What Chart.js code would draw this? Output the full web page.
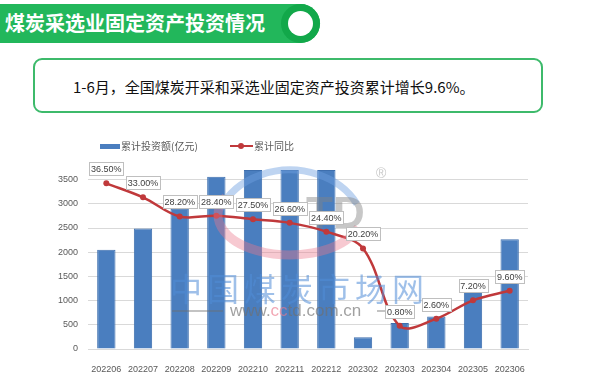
<!DOCTYPE html>
<html lang="zh-CN">
<head>
<meta charset="utf-8">
<title>煤炭采选业固定资产投资情况</title>
<script src="https://cdn.jsdelivr.net/npm/chart.js@4/dist/chart.umd.min.js"></script>
<style>
  html, body { margin: 0; padding: 0; background: #fff; }
  body { width: 600px; height: 374px; position: relative; overflow: hidden;
         font-family: "Noto Sans CJK SC", "Noto Sans", sans-serif; }
  .banner { position: absolute; left: 0; top: 4px; width: 320px; height: 39px;
            background: #22b75b; border-radius: 0 20px 20px 0; }
  .banner .title { position: absolute; left: 5px; top: 0; line-height: 38px;
                   color: #fff; font-size: 20px; font-weight: 700; white-space: nowrap; }
  .ring { position: absolute; left: 281px; top: 4px; width: 39px; height: 39px;
          border-radius: 50%; background: #12a84a; }
  .ring::after { content: ""; position: absolute; left: 7px; top: 7px; width: 25px; height: 25px;
                 border-radius: 50%; background: #fff; }
  .note { position: absolute; left: 33px; top: 58px; width: 506px; height: 51px;
          border: 2px solid #3dba6b; border-radius: 9px; }
  .note span { position: absolute; left: 38px; top: 0; line-height: 53px;
               font-size: 15px; color: #111; white-space: nowrap; }
  #wrap { position: absolute; left: 0; top: 140px; width: 600px; height: 234px; }
  .legend { position: absolute; top: 139px; left: 0; height: 14px; font-size: 10px;
            color: #595959; z-index: 2; }
  .legend .sw { position: absolute; left: 100px; top: 5px; width: 20px; height: 5px; background: #4a7ebf; }
  .legend .t1 { position: absolute; left: 121px; top: 0; line-height: 14px; white-space: nowrap; }
  .legend .ln { position: absolute; left: 230px; top: 6px; width: 23px; height: 2px; background: #c0393b; }
  .legend .dot { position: absolute; left: 238px; top: 4px; width: 6px; height: 6px; border-radius: 50%; background: #c0393b; }
  .legend .t2 { position: absolute; left: 254px; top: 0; line-height: 14px; white-space: nowrap; }
</style>
</head>
<body>
<div class="banner"><div class="title">煤炭采选业固定资产投资情况</div></div>
<div class="ring"></div>
<div class="note"><span>1-6月，全国煤炭开采和采选业固定资产投资累计增长9.6%。</span></div>

<div class="legend">
  <div class="sw"></div><div class="t1">累计投资额(亿元)</div>
  <div class="ln"></div><div class="dot"></div><div class="t2">累计同比</div>
</div>
<div id="wrap"><canvas id="chart" width="600" height="234"></canvas></div>

<script>
// ── Data ────────────────────────────────────────────────────────────────────
const months     = ['202206', '202207', '202208', '202209', '202210', '202211',
                    '202212', '202302', '202303', '202304', '202305', '202306'];
const investment = [2050, 2490, 2900, 3560, 3700, 3700, 3700, 245, 536, 669, 1385, 2265];
const growth     = [36.5, 33.0, 28.2, 28.4, 27.5, 26.6, 24.4, 20.2, 0.8, 2.6, 7.2, 9.6];
const leftMax    = 4000;
const leftStep   = 500;

const BAR_COLOR  = '#4a7ebf';
const LINE_COLOR = '#c0393b';
const GRID_COLOR = '#d9d9d9';
const FONT       = "'Liberation Sans', Arial, sans-serif";

Chart.defaults.font.family = FONT;
Chart.defaults.font.size = 9;
Chart.defaults.color = '#595959';

// ── Watermark (decoration, canvas sits 140px below page top) ───────────────
const watermark = {
  id: 'watermark',
  afterDatasetsDraw(chart) {
    const ctx = chart.ctx;
    const oy = -140;
    ctx.save();
    // blue orbit arc
    ctx.strokeStyle = 'rgba(110,160,225,0.45)';
    ctx.lineWidth = 7;
    ctx.beginPath();
    ctx.ellipse(290, 232 + oy, 75, 62, 0, Math.PI * 1.12, Math.PI * 1.85);
    ctx.stroke();
    // pink "C"
    ctx.strokeStyle = 'rgba(235,120,140,0.40)';
    ctx.lineWidth = 9;
    ctx.beginPath();
    ctx.ellipse(290, 215 + oy, 72, 40, 0, Math.PI * 1.15, Math.PI * 0.1, true);
    ctx.stroke();
    // gray "TD"
    ctx.fillStyle = 'rgba(130,130,130,0.45)';
    ctx.font = "bold 44px 'Liberation Sans', sans-serif";
    ctx.textBaseline = 'alphabetic';
    ctx.textAlign = 'left';
    ctx.fillText('TD', 306, 228 + oy);
    ctx.font = "14px 'Liberation Sans', sans-serif";
    ctx.fillText('®', 376, 178 + oy);
    // chinese site name
    ctx.fillStyle = 'rgba(80,140,215,0.55)';
    ctx.font = "32px 'Noto Sans CJK SC', sans-serif";
    ctx.textBaseline = 'middle';
    [...'中国煤炭市场网'].forEach((ch, i) => ctx.fillText(ch, 170 + i * 37, 289 + oy));
    // url
    ctx.font = "17px 'Liberation Sans', sans-serif";
    let x = 230;
    [['www.', 'rgba(110,110,110,0.65)'], ['cc', 'rgba(235,120,140,0.65)'],
     ['td.com.cn', 'rgba(110,110,110,0.65)']].forEach(([s, c]) => {
      ctx.fillStyle = c;
      ctx.fillText(s, x, 311 + oy);
      x += ctx.measureText(s).width;
    });
    ctx.strokeStyle = 'rgba(110,110,110,0.55)';
    ctx.lineWidth = 1.5;
    ctx.beginPath();
    ctx.moveTo(172, 311 + oy); ctx.lineTo(223, 311 + oy);
    ctx.moveTo(377, 311 + oy); ctx.lineTo(397, 311 + oy);
    ctx.stroke();
    ctx.restore();
  },
};

// ── Boxed percentage labels on the line ─────────────────────────────────────
const boxLabels = {
  id: 'boxLabels',
  afterDatasetsDraw(chart) {
    const ctx = chart.ctx;
    const meta = chart.getDatasetMeta(1);
    ctx.save();
    ctx.font = '9px ' + FONT;
    ctx.textAlign = 'center';
    ctx.textBaseline = 'middle';
    meta.data.forEach((pt, i) => {
      const text = growth[i].toFixed(2) + '%';
      const w = Math.round(ctx.measureText(text).width) + 3;
      const h = 13;
      const x0 = Math.round(pt.x - w / 2) + 0.5;
      const y0 = Math.round(pt.y - 8 - h) + 0.5;
      ctx.fillStyle = '#fff';
      ctx.fillRect(x0, y0, w, h);
      ctx.strokeStyle = '#bfbfbf';
      ctx.lineWidth = 1;
      ctx.strokeRect(x0, y0, w, h);
      ctx.fillStyle = '#404040';
      ctx.fillText(text, pt.x, y0 + h / 2 + 0.5);
    });
    ctx.restore();
  },
};

new Chart(document.getElementById('chart').getContext('2d'), {
  type: 'bar',
  data: {
    labels: months,
    datasets: [
      {
        type: 'bar',
        label: '累计投资额(亿元)',
        data: investment,
        backgroundColor: BAR_COLOR,
        borderColor: '#3e6fae',
        borderWidth: 1,
        barPercentage: 0.5,
        categoryPercentage: 1,
        yAxisID: 'y',
        order: 2,
      },
      {
        type: 'line',
        label: '累计同比',
        data: growth,
        borderColor: LINE_COLOR,
        backgroundColor: LINE_COLOR,
        borderWidth: 2.5,
        pointRadius: 3,
        pointBackgroundColor: LINE_COLOR,
        pointBorderWidth: 0,
        tension: 0.35,
        yAxisID: 'y1',
        order: 1,
      },
    ],
  },
  options: {
    responsive: false,
    animation: false,
    layout: { padding: { top: 9, right: 72, bottom: 0, left: 0 } },
    plugins: {
      legend: { display: false },
      tooltip: { enabled: false },
    },
    scales: {
      x: {
        grid: { display: false },
        border: { display: true, color: GRID_COLOR },
        ticks: { padding: 7, maxRotation: 0, autoSkip: false, color: '#595959' },
        afterFit: s => { s.height = 25; },
      },
      y: {
        min: 0,
        max: leftMax,
        ticks: {
          stepSize: leftStep,
          padding: 10,
          color: '#595959',
          callback: v => v === leftMax ? '' : v,
        },
        grid: {
          drawTicks: false,
          color: c => c.tick && c.tick.value === leftMax ? 'transparent' : GRID_COLOR,
        },
        border: { display: false },
        afterFit: s => { s.width = 88; },
      },
      y1: {
        display: false,
        position: 'right',
        min: -5,
        max: 43.5,
      },
    },
  },
  plugins: [watermark, boxLabels],
});
</script>
</body>
</html>
